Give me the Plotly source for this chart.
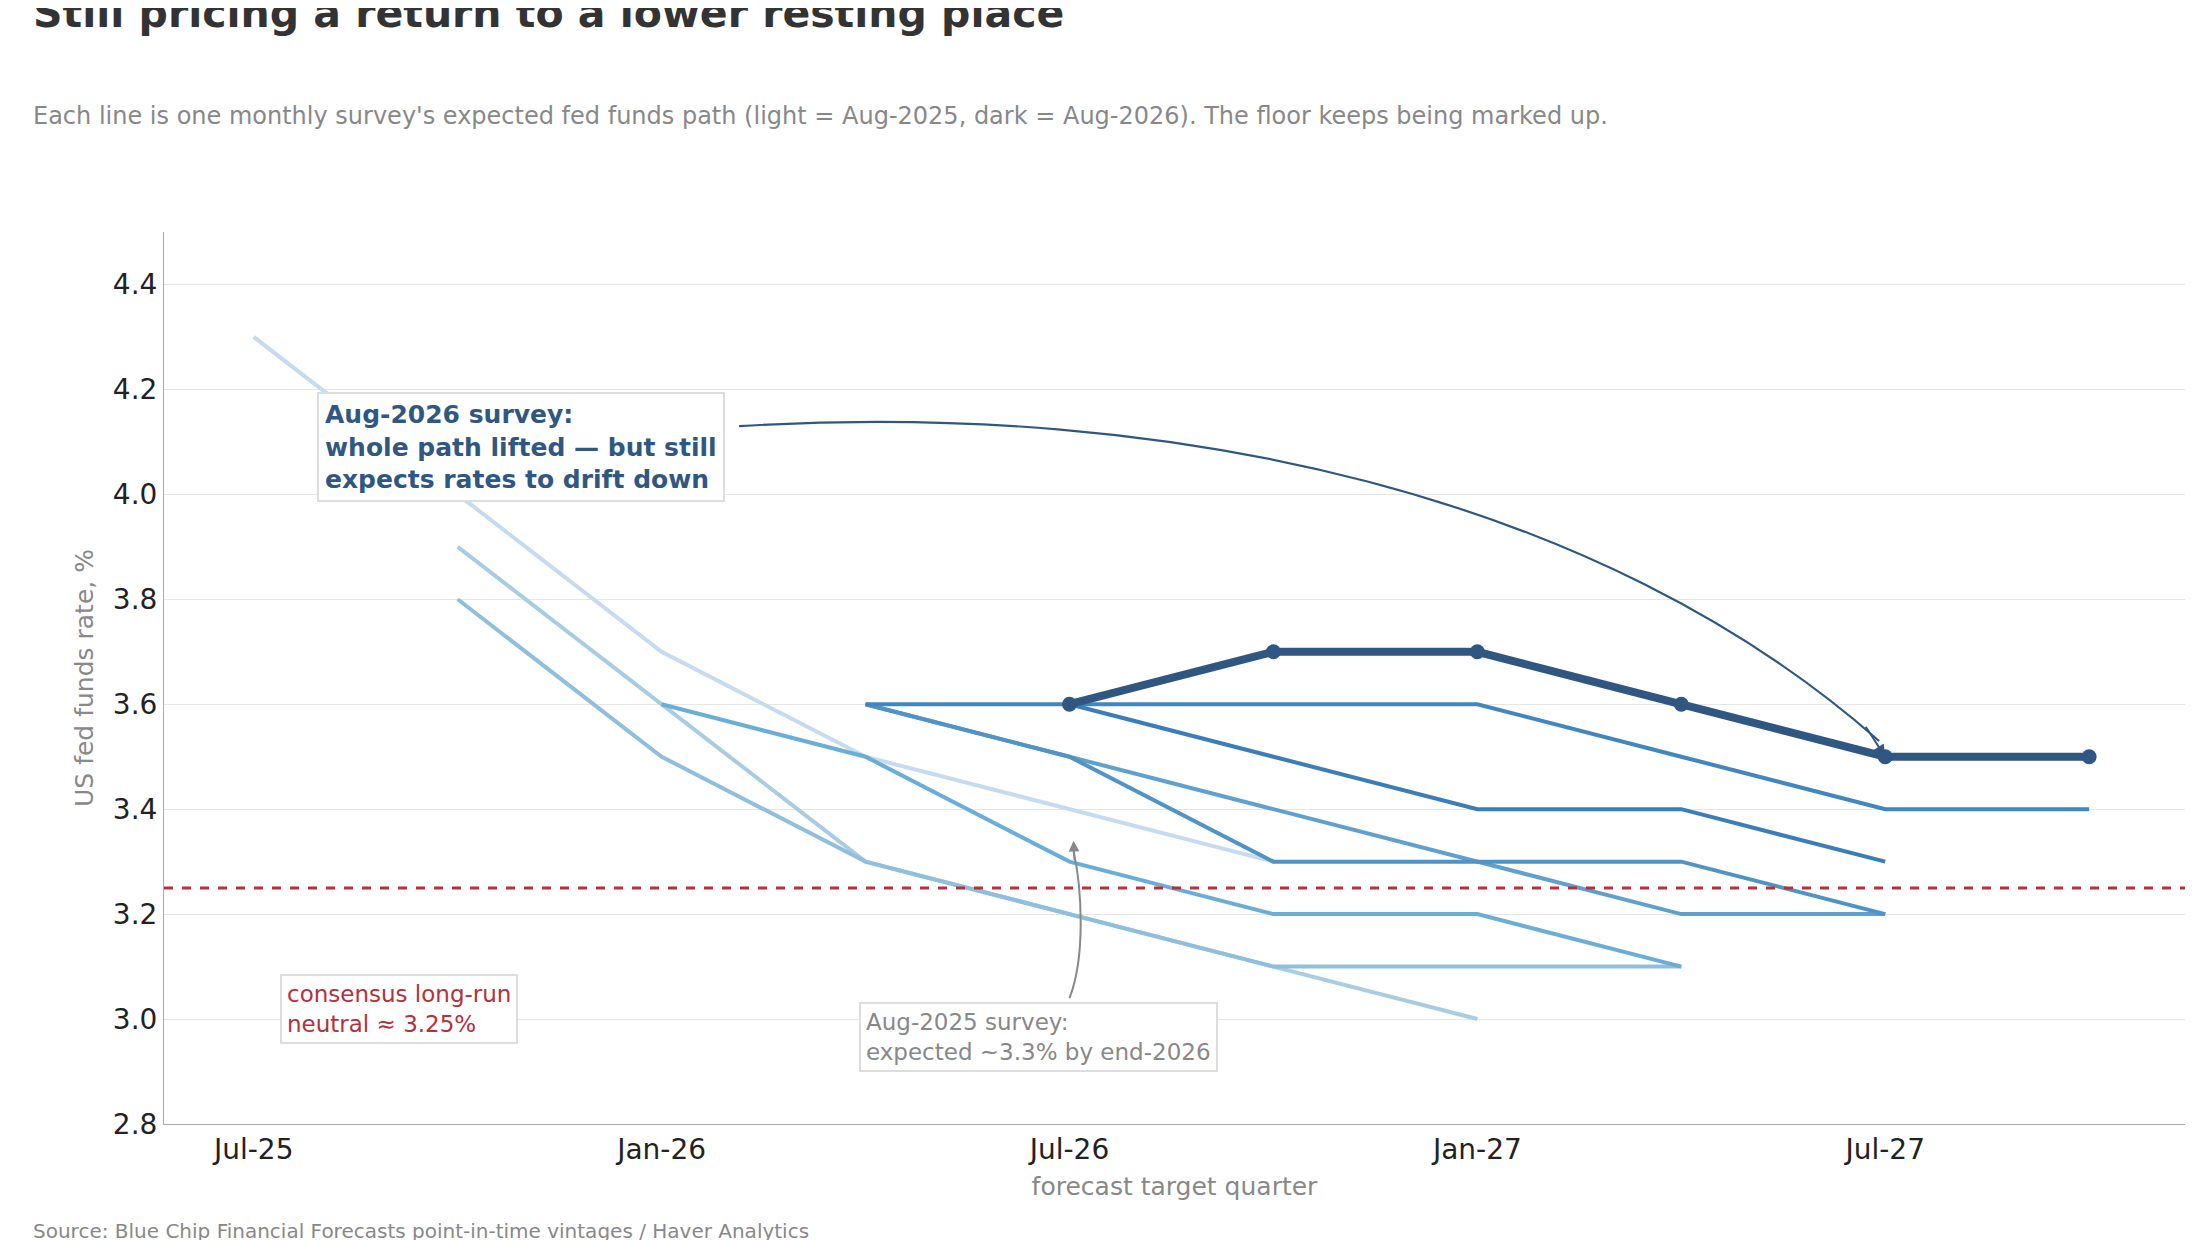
import plotly.graph_objects as go

# forecast target quarters (x index 0..9)
quarters = ["Jul-25", "Oct-25", "Jan-26", "Apr-26", "Jul-26", "Oct-26", "Jan-27", "Apr-27", "Jul-27", "Oct-27"]
tick_idx = [0, 2, 4, 6, 8]

# each vintage: first quarter index, expected path
v_aug25 = (0, [4.3, 4.0, 3.7, 3.5, 3.4, 3.3])
v_nov25 = (1, [3.9, 3.6, 3.3, 3.2, 3.1, 3.0])
v_dec25 = (1, [3.8, 3.5, 3.3, 3.2, 3.1, 3.1, 3.1])
v_feb26 = (2, [3.6, 3.5, 3.3, 3.2, 3.2, 3.1])
v_may26 = (3, [3.6, 3.5, 3.4, 3.3, 3.2, 3.2])
v_jun26 = (3, [3.6, 3.5, 3.3, 3.3, 3.3, 3.2])
v_jul26 = (3, [3.6, 3.6, 3.6, 3.6, 3.5, 3.4, 3.4])
v_jul26b = (4, [3.6, 3.5, 3.4, 3.4, 3.3])
v_aug26 = (4, [3.6, 3.7, 3.7, 3.6, 3.5, 3.5])

vintages = [v_aug25, v_nov25, v_dec25, v_feb26, v_may26, v_jun26, v_jul26, v_jul26b]
colors = ["#c6dbef", "#a9cce3", "#8fbfdc", "#6aaed6", "#5fa0cf", "#4f93c7", "#4286bf", "#3a7db8"]

neutral = 3.25

fig = go.Figure()
for (start, vals), c in zip(vintages, colors):
    fig.add_trace(go.Scatter(x=list(range(start, start + len(vals))), y=vals, mode="lines",
                             line=dict(color=c, width=4), showlegend=False, hoverinfo="skip"))

start, vals = v_aug26
fig.add_trace(go.Scatter(x=list(range(start, start + len(vals))), y=vals, mode="lines+markers",
                         line=dict(color="#2f5782", width=8), marker=dict(size=15, color="#2f5782"),
                         showlegend=False))

fig.add_hline(y=neutral, line=dict(color="#b5303a", width=3, dash="dash"))

# curved call-out arrows
fig.add_shape(type="path", path="M 2.38,4.13 C 4.5,4.18 6.6,4.0 7.97,3.53",
              line=dict(color="#2f5782", width=2.2))
fig.add_annotation(x=8, y=3.5, ax=7.9, ay=3.56, axref="x", ayref="y", showarrow=True,
                   arrowhead=2, arrowsize=1.2, arrowwidth=2, arrowcolor="#2f5782", text="")
fig.add_shape(type="path", path="M 4.0,3.04 C 4.08,3.12 4.06,3.25 4.02,3.32",
              line=dict(color="#888888", width=2))
fig.add_annotation(x=4.02, y=3.34, ax=4.025, ay=3.3, axref="x", ayref="y", showarrow=True,
                   arrowhead=2, arrowsize=1.2, arrowwidth=1.8, arrowcolor="#888888", text="")

fig.add_annotation(x=0.31, y=4.09, xanchor="left", showarrow=False, align="left",
                   text="<b>Aug-2026 survey:<br>whole path lifted — but still<br>expects rates to drift down</b>",
                   font=dict(size=25, color="#2f5782"), bgcolor="white",
                   bordercolor="#dddddd", borderwidth=2, borderpad=6)
fig.add_annotation(x=0.13, y=3.02, xanchor="left", showarrow=False, align="left",
                   text="consensus long-run<br>neutral ≈ 3.25%",
                   font=dict(size=23, color="#b5303a"), bgcolor="white",
                   bordercolor="#dddddd", borderwidth=2, borderpad=5)
fig.add_annotation(x=2.97, y=2.965, xanchor="left", showarrow=False, align="left",
                   text="Aug-2025 survey:<br>expected ~3.3% by end-2026",
                   font=dict(size=23, color="#888888"), bgcolor="white",
                   bordercolor="#dddddd", borderwidth=2, borderpad=5)

# title, subtitle, source
fig.add_annotation(xref="paper", yref="paper", x=-0.066, y=1.245, xanchor="left", yanchor="middle",
                   showarrow=False, text="<b>Still pricing a return to a lower resting place</b>",
                   font=dict(size=41, color="#333333"))
fig.add_annotation(xref="paper", yref="paper", x=-0.066, y=1.13, xanchor="left", yanchor="middle",
                   showarrow=False,
                   text="Each line is one monthly survey's expected fed funds path "
                        "(light = Aug-2025, dark = Aug-2026). The floor keeps being marked up.",
                   font=dict(size=24, color="#888888"))
fig.add_annotation(xref="paper", yref="paper", x=-0.066, y=-0.12, xanchor="left", yanchor="middle",
                   showarrow=False, text="Source: Blue Chip Financial Forecasts point-in-time vintages / Haver Analytics",
                   font=dict(size=20, color="#888888"))

fig.update_layout(
    width=2200, height=1240,
    font=dict(family="DejaVu Sans", color="#333333"),
    paper_bgcolor="white", plot_bgcolor="white",
    margin=dict(l=156, r=23, t=224, b=124),
    xaxis=dict(range=[-0.44, 9.47], tickvals=tick_idx, ticktext=[quarters[i] for i in tick_idx],
               showgrid=False, showline=True, linecolor="#aaaaaa", ticks="", zeroline=False,
               tickfont=dict(size=28, color="#222222"),
               title=dict(text="forecast target quarter", font=dict(size=25, color="#888888"), standoff=12)),
    yaxis=dict(range=[2.8, 4.5], dtick=0.2, tickformat=".1f", showgrid=True, gridcolor="#e6e6e6",
               showline=True, linecolor="#aaaaaa", zeroline=False, ticks="",
               tickfont=dict(size=28, color="#222222"),
               title=dict(text="US fed funds rate, %", font=dict(size=25, color="#888888"), standoff=12)),
)

fig.write_html("out.html")
